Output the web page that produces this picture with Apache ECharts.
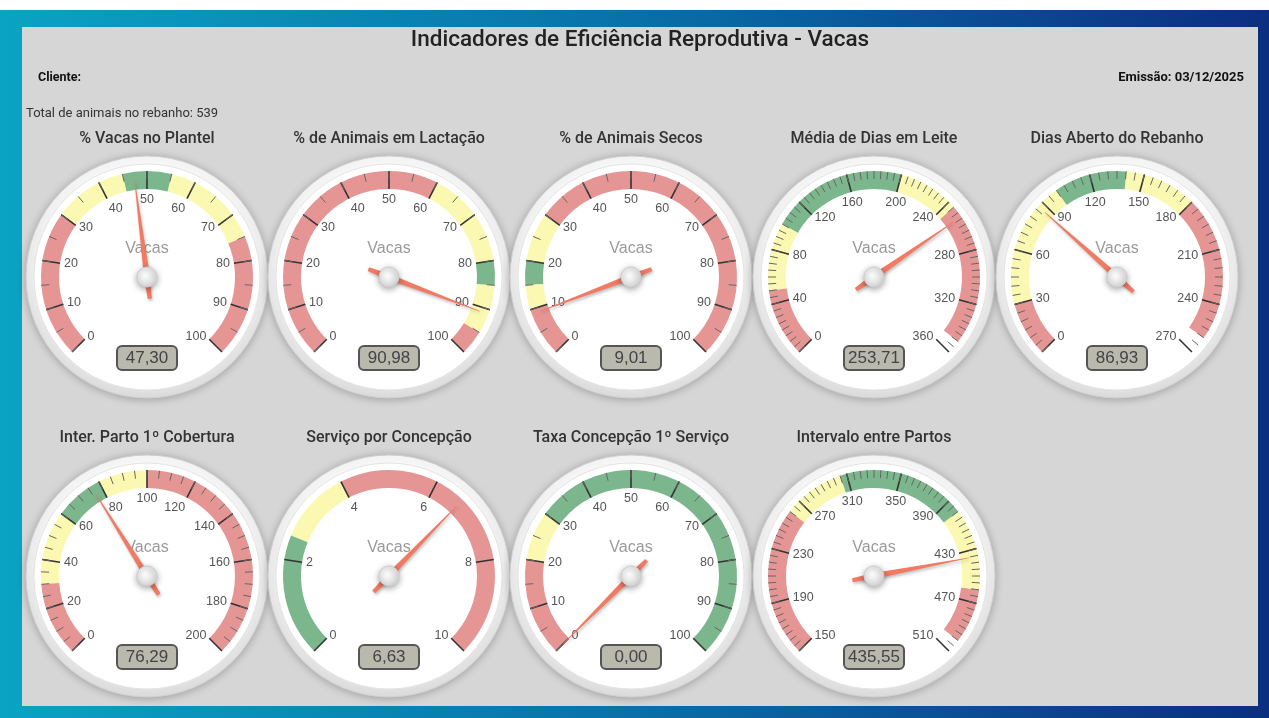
<!DOCTYPE html>
<html>
<head>
<meta charset="utf-8">
<title>Indicadores de Eficiência Reprodutiva - Vacas</title>
<script src="https://cdn.jsdelivr.net/npm/echarts@6/dist/echarts.min.js"></script>
<style>
  html, body { margin: 0; padding: 0; background: #fff; }
  #frame { position: absolute; left: 0; top: 10px; width: 1269px; height: 708px;
    background: linear-gradient(90deg, #0aa3c3 0%, #0a70a7 50%, #0b2e80 100%); }
  #panel { position: absolute; left: 22px; top: 27px; width: 1236px; height: 679px; background: #d6d6d6; }
  #chart { position: absolute; left: 0; top: 0; width: 1269px; height: 718px; }
</style>
</head>
<body>
<div id="frame"></div>
<div id="panel"></div>
<div id="chart"></div>
<script>
// dados dos indicadores
const gaugeTitles = [
  '% Vacas no Plantel',
  '% de Animais em Lactação',
  '% de Animais Secos',
  'Média de Dias em Leite',
  'Dias Aberto do Rebanho',
  'Inter. Parto 1º Cobertura',
  'Serviço por Concepção',
  'Taxa Concepção 1º Serviço',
  'Intervalo entre Partos'
]
const gaugeValues = [47.30, 90.98, 9.01, 253.71, 86.93, 76.29, 6.63, 0.00, 435.55]
const axisMin = [0, 0, 0, 0, 0, 0, 0, 0, 150]
const axisMax = [100, 100, 100, 360, 270, 200, 10, 100, 510]
const majorSplits = [10, 10, 10, 9, 9, 10, 5, 10, 9]
const minorSplits = [2, 2, 2, 8, 6, 4, 1, 2, 8]
// limite superior de cada faixa e sua cor
const bandLimits = [
  [30, 45, 55, 75, 100],
  [60, 80, 85, 95, 100],
  [10, 15, 20, 30, 100],
  [50, 100, 200, 245, 350, 360],
  [30, 100, 140, 180, 260, 270],
  [30, 60, 80, 100, 200],
  [2.5, 4, 10],
  [20, 30, 100],
  [260, 305, 400, 460, 500, 510]
]
const bandColors = [
  ['r', 'y', 'g', 'y', 'r'],
  ['r', 'y', 'g', 'y', 'r'],
  ['r', 'y', 'g', 'y', 'r'],
  ['r', 'y', 'g', 'y', 'r', 'w'],
  ['r', 'y', 'g', 'y', 'r', 'w'],
  ['r', 'y', 'g', 'y', 'r'],
  ['g', 'y', 'r'],
  ['r', 'y', 'g'],
  ['r', 'y', 'g', 'y', 'r', 'w']
]
const unitName = 'Vacas'
const totalAnimais = 539
const emissao = '03/12/2025'

const palette = { r : '#e69595', y : '#fbf9b1', g : '#7bb68d', w : '#ffffff' }
const centersX = [147, 389, 631, 874, 1117]
const centersY = [277, 576]
const R = 106
const BAND = 18

const chart = echarts.init( document.getElementById( 'chart' ) )

const series = []
const graphics = [
  { type : 'text', x : 640, y : 40, z : 10,
    style : { text : 'Indicadores de Eficiência Reprodutiva - Vacas', font : '500 22.5px Roboto', fill : '#222', align : 'center', verticalAlign : 'middle' }},
  { type : 'text', x : 38, y : 78, z : 10,
    style : { text : 'Cliente:', font : 'bold 12.5px Roboto', fill : '#111', align : 'left', verticalAlign : 'middle' }},
  { type : 'text', x : 1244, y : 78, z : 10,
    style : { text : 'Emissão: ' + emissao, font : 'bold 13px Roboto', fill : '#111', align : 'right', verticalAlign : 'middle' }},
  { type : 'text', x : 26, y : 114, z : 10,
    style : { text : 'Total de animais no rebanho: ' + totalAnimais, font : '13px Roboto', fill : '#333', align : 'left', verticalAlign : 'middle' }}
]

gaugeTitles.forEach( ( name, i ) => {
  const cx = centersX[i % 5]
  const cy = centersY[Math.floor( i / 5 )]
  const span = axisMax[i] - axisMin[i]

  // moldura do mostrador
  graphics.push( {
    type : 'circle', z : 0, silent : true,
    shape : { cx : cx, cy : cy, r : 121 },
    style : {
      fill : new echarts.graphic.LinearGradient( 0, 0, 0, 1, [
        { offset : 0, color : '#fafafa' },
        { offset : 1, color : '#e0e0e0' }
      ] ),
      stroke : '#cfcfcf',
      lineWidth : 1,
      shadowBlur : 8, shadowColor : 'rgba(0,0,0,0.25)', shadowOffsetY : 1
    }
  } )
  graphics.push( {
    type : 'circle', z : 1, silent : true,
    shape : { cx : cx, cy : cy, r : 113 },
    style : { fill : '#fff', stroke : '#e4e4e4', lineWidth : 1 }
  } )
  graphics.push( {
    type : 'text', z : 10, x : cx, y : cy - 138,
    style : { text : name, font : '500 16px Roboto', fill : '#333', align : 'center', verticalAlign : 'middle' }
  } )

  series.push( {
    type : 'gauge',
    center : [cx, cy],
    radius : R,
    min : axisMin[i],
    max : axisMax[i],
    splitNumber : majorSplits[i],
    startAngle : 225,
    endAngle : -45,
    axisLine : {
      lineStyle : {
        width : BAND,
        color : bandLimits[i].map( ( v, k ) => [( v - axisMin[i] ) / span, palette[bandColors[i][k]]] )
      }
    },
    splitLine : { distance : -BAND, length : BAND, lineStyle : { color : '#333', width : 1.6 }},
    axisTick : {
      show : minorSplits[i] > 1,
      splitNumber : minorSplits[i],
      distance : -BAND,
      length : 8,
      lineStyle : { color : '#666', width : 1 }
    },
    axisLabel : { distance : 22, color : '#555', fontSize : 12.5, fontFamily : 'Liberation Sans' },
    pointer : {
      icon : 'path://M2.7,0 L3.3,0 L6,97 L5,119 L1,119 L0,97 Z',
      length : 119,
      width : 6,
      offsetCenter : [0, 22],
      itemStyle : { color : '#f07a62', shadowColor : 'rgba(0,0,0,0.25)', shadowBlur : 3, shadowOffsetX : 1, shadowOffsetY : 2 }
    },
    anchor : {
      show : true,
      showAbove : true,
      size : 20,
      itemStyle : {
        color : new echarts.graphic.RadialGradient( 0.4, 0.4, 0.7, [
          { offset : 0, color : '#ffffff' },
          { offset : 1, color : '#d2d2d2' }
        ] ),
        borderColor : '#cfcfcf',
        borderWidth : 1,
        shadowBlur : 6,
        shadowColor : 'rgba(0,0,0,0.35)',
        shadowOffsetY : 2
      }
    },
    title : { offsetCenter : [0, -28], color : '#9a9a9a', fontSize : 16, fontFamily : 'Liberation Sans' },
    detail : {
      offsetCenter : [0, 81],
      formatter : v => v.toFixed( 2 ).replace( '.', ',' ),
      fontSize : 17,
      fontWeight : 'normal',
      fontFamily : 'Liberation Sans',
      color : '#444',
      backgroundColor : '#b9b9ae',
      borderColor : '#555',
      borderWidth : 2,
      borderRadius : 4,
      width : 54,
      height : 20,
      lineHeight : 20,
      padding : [1, 2]
    },
    data : [{ value : gaugeValues[i], name : unitName }]
  } )
} )

// caixa de dica visível na imagem original
graphics.push( {
  type : 'group', z : 20,
  children : [
    { type : 'rect', shape : { x : 911, y : 255, width : 39, height : 19 }, style : { fill : '#fff', stroke : '#777', lineWidth : 1 }},
    { type : 'text', x : 930.5, y : 265, style : { text : unitName, font : '10px "Liberation Sans"', fill : '#333', align : 'center', verticalAlign : 'middle' }}
  ]
} )

chart.setOption( {
  animation : false,
  graphic : graphics,
  series : series
} )

window.addEventListener( 'resize', () => chart.resize() )
</script>
</body>
</html>
